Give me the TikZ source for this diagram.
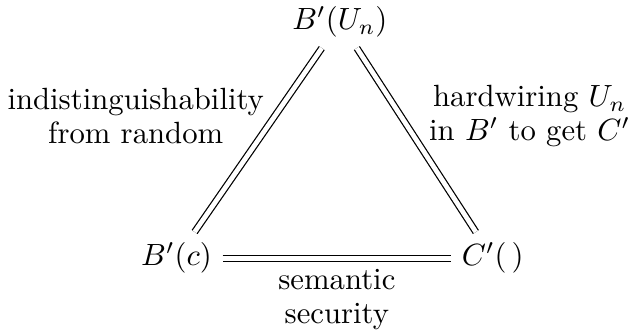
\documentclass[tikz,border=0pt]{standalone}
\usepackage{amsmath}

\begin{document}
\begin{tikzpicture}[thin,
  eq/.style={double, double equal sign distance},
  lbl/.style={align=center, font=\linespread{0.93}\selectfont}]

  % 画布大小
  \useasboundingbox (0,0) rectangle (7.21,3.77);

  % 三个顶点
  \node (top) at (3.89,3.52) {$B'(U_n)$};
  \node (bc)  at (2.02,0.815) {$B'(c)$};
  \node (cc)  at (5.64,0.815) {$C'(\,)$};

  % ---- 三条等号边与标注 ----
  \draw[eq] (bc) -- node[lbl, pos=0.63, anchor=east] {indistinguishability\\from random} (top);
  \draw[eq] (top) -- node[lbl, pos=0.37, anchor=west, xshift=0.2cm] {hardwiring $U_n$\\in $B'$ to get $C'$} (cc);
  \draw[eq] (bc) -- node[lbl, below] {semantic\\security} (cc);

\end{tikzpicture}
\end{document}
